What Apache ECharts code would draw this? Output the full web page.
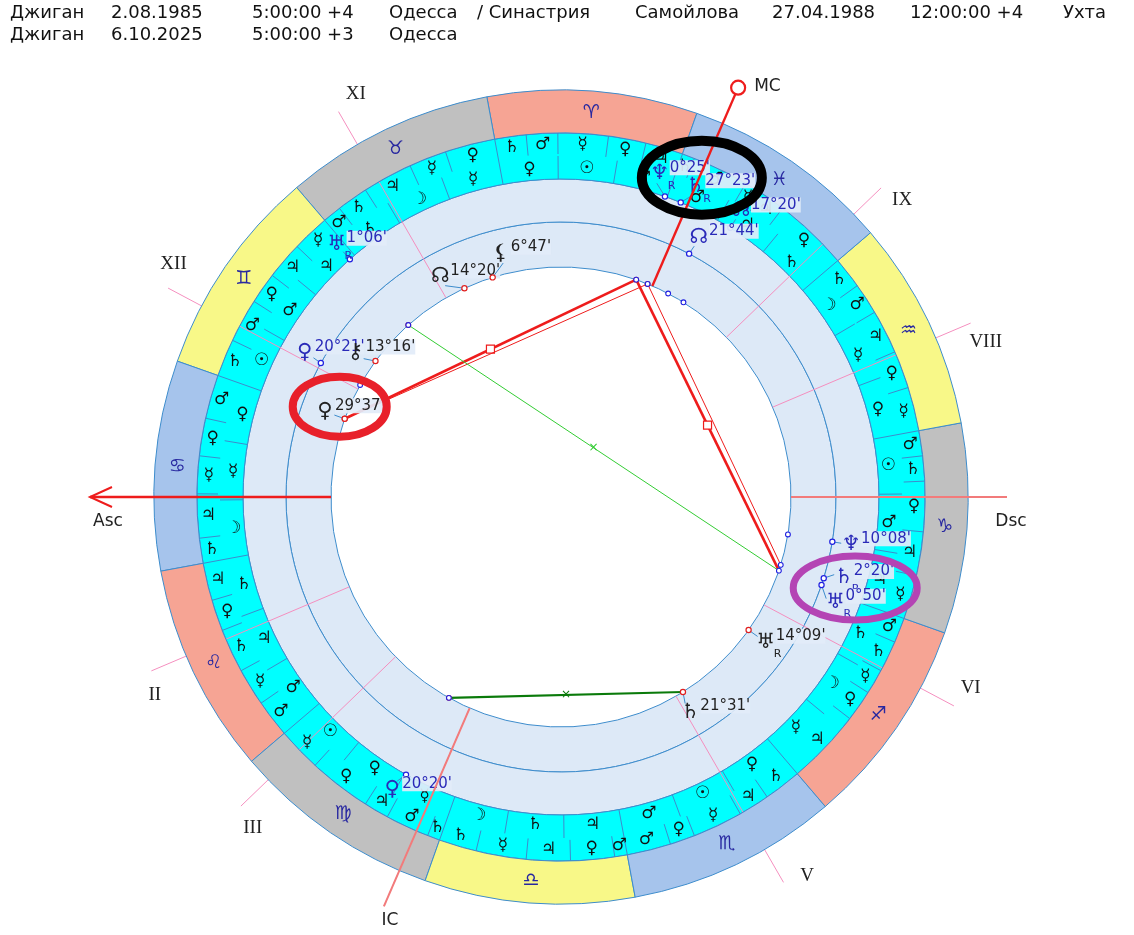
<!DOCTYPE html>
<html>
<head>
<meta charset="utf-8">
<script src="https://cdn.jsdelivr.net/npm/echarts@6/dist/echarts.min.js"></script>
<style>html,body{margin:0;background:#fff}#chart{width:1134px;height:935px}</style>
</head>
<body>
<div id="chart"></div>
<script>
// chart data
const ASC = 109.5;
const headerLine1 = ['Джиган', '2.08.1985', '5:00:00 +4', 'Одесса', '/ Синастрия', 'Самойлова', '27.04.1988', '12:00:00 +4', 'Ухта'];
const headerLine2 = ['Джиган', '6.10.2025', '5:00:00 +3', 'Одесса'];
const signGlyphs = ['\u2648','\u2649','\u264A','\u264B','\u264C','\u264D','\u264E','\u264F','\u2650','\u2651','\u2652','\u2653'];
const termRulers = [
  ['♃','♀','☿','♂','♄'], ['♀','☿','♃','♄','♂'], ['☿','♃','♀','♂','♄'], ['♂','♀','☿','♃','♄'],
  ['♃','♀','♄','☿','♂'], ['☿','♀','♃','♂','♄'], ['♄','☿','♃','♀','♂'], ['♂','♀','☿','♃','♄'],
  ['♃','♀','☿','♄','♂'], ['☿','♃','♀','♄','♂'], ['☿','♀','♃','♂','♄'], ['♀','♃','☿','♂','♄']
];
const termLengths = [
  [6,6,8,5,5], [8,6,8,5,3], [6,6,5,7,6], [7,6,6,7,4],
  [6,5,7,6,6], [7,10,4,7,2], [6,8,7,7,2], [7,4,8,5,6],
  [12,5,4,5,4], [7,7,8,4,4], [7,6,7,5,5], [12,4,3,9,2]
];
const faces = ['♂','☉','♀','☿','☽','♄','♃','♂','☉','♀','☿','☽','♄','♃','♂','☉','♀','☿',
  '☽','♄','♃','♂','☉','♀','☿','☽','♄','♃','♂','☉','♀','☿','☽','♄','♃','♂'];
const houseCusps = [109.5, 132.5, 153.5, 176.1, 229.5, 261.5, 289.5, 312.5, 333.5, 356.1, 49.5, 81.5];
const houseNames = ['Asc','II','III','IC','V','VI','Dsc','VIII','IX','MC','XI','XII'];

// transit 6.10.2025
const transitGlyphs = ['♆','♄','☊','♅','♀'];
const transitLon = [0.42, 357.38, 347.33, 61.1, 170.33];
const transitLabels = ["0°25'", "27°23'", "17°20'", "1°06'", "20°20'"];
const transitRetro = [true, true, false, true, false];
// Самойлова 27.04.1988
const partnerGlyphs = ['☊','♀','♆','♄','♅'];
const partnerLon = [351.73, 80.35, 280.13, 272.33, 270.83];
const partnerLabels = ["21°44'", "20°21'", "10°08'", "2°20'", "0°50'"];
const partnerRetro = [false, false, false, true, true];
// Джиган 2.08.1985
const natalGlyphs = ['☊','⚸','⚷','♀','♅','♄'];
const natalLon = [44.33, 36.78, 73.27, 89.62, 254.15, 231.52];
const natalLabels = ["14°20'", "6°47'", "13°16'", "29°37'", "14°09'", "21°31'"];
const natalRetro = [false, false, false, false, true, false];

// aspects
const aspFrom = [89.62, 89.62, 0.42, 357.38, 61.1, 170.33];
const aspTo = [0.42, 357.38, 270.83, 272.33, 270.83, 231.52];
const aspKind = ['sq', 'sq2', 'sq', 'sq2', 'qx', 'sx'];

// highlighted spots (longitudes)
const markLon = [355.7, 87.3, 272.3];

// layout
const header1X = [10, 111, 252, 389, 477, 635, 772, 910, 1063];
const header2X = [10, 111, 252, 389];
const transitShift = [2.1, -1.3, 0, 0, -0.8];
const partnerShift = [-0.2, -0.2, 0, 1.3, -2.3];
const natalShift = [3.9, -3.4, 1.2, 0, 0, -1];
const markStyle = [
  { r: 349, rx: 60, ry: 37, w: 10, c: '#000000' },
  { r: 239, rx: 47, ry: 30, w: 8, c: '#e8202a' },
  { r: 308, rx: 62, ry: 32, w: 7, c: '#b444b4' }
];

const signColors = ['#F6A494','#C0C0C0','#F8F888','#A6C4EC'];
const R_IN = 230, R_MID = 275, R_CY = 318, R_ZI = 364, R_ZO = 407;
const BLUE = '#2a2ab8', LINE = '#3d8ccc';
const font = 'DejaVu Sans';

const chart = echarts.init(document.getElementById('chart'));

function ringPie(r, color, z, data) {
  return {
    type: 'pie', center: [561, 497], radius: r, startAngle: 180 - ASC, clockwise: false,
    silent: true, z: z, label: { show: false }, labelLine: { show: false },
    emphasis: { disabled: true }, animation: false,
    itemStyle: { borderColor: LINE, borderWidth: 1, borderRadius: 0 },
    data: data || [{ value: 1, itemStyle: { color: color } }]
  };
}

// ticks in cyan ring
const ticks = [];
termLengths.forEach((ls, s) => {
  ticks.push([R_CY, R_ZI, s * 30]);
  let acc = 0;
  ls.forEach((l, k) => { if (k > 0) ticks.push([343, R_ZI, s * 30 + acc]); acc += l; });
});
faces.forEach((f, k) => { if (k % 3) ticks.push([R_CY, 341, k * 10]); });

// glyph texts in rings
const ringTexts = [];
signGlyphs.forEach((g, s) => ringTexts.push([385, s * 30 + 15, g, '#2828a0', 19]));
termLengths.forEach((ls, s) => {
  let acc = 0;
  ls.forEach((l, k) => { ringTexts.push([353, s * 30 + acc + l / 2, termRulers[s][k], '#111', 17]); acc += l; });
});
faces.forEach((f, k) => ringTexts.push([329, k * 10 + 5, f, '#111', 17]));

function planetSeries(glyphs, lon, labels, retro, shift, r0, rg, color, dotColor) {
  return {
    type: 'custom', coordinateSystem: 'polar', z: 8, silent: true, animation: false,
    data: lon.map(l => [r0, l]),
    renderItem: function (params, api) {
      const i = params.dataIndex;
      const L = api.value(1);
      const p0 = api.coord([r0, L]);
      const g = api.coord([rg, L + shift[i]]);
      const c = api.coord([rg - 10, L + shift[i]]);
      const ch = [
        { type: 'line', shape: { x1: p0[0], y1: p0[1], x2: c[0], y2: c[1] }, style: { stroke: LINE, lineWidth: 1 } },
        { type: 'circle', shape: { cx: p0[0], cy: p0[1], r: 2.6 }, style: { fill: '#fff', stroke: dotColor, lineWidth: 1.2 } },
        { type: 'text', x: g[0] + 10, y: g[1] - 6, style: { text: labels[i], fill: color, font: '15px ' + font, align: 'left', verticalAlign: 'middle', backgroundColor: 'rgba(226,236,249,0.92)' } },
        { type: 'text', x: g[0], y: g[1], style: { text: glyphs[i], fill: color, font: '21px ' + font, align: 'center', verticalAlign: 'middle' } }
      ];
      if (retro[i]) ch.push({ type: 'text', x: g[0] + 8, y: g[1] + 12, style: { text: 'R', fill: color, font: '11px ' + font, align: 'left', verticalAlign: 'middle' } });
      if (r0 > R_IN) {
        const pi = api.coord([R_IN, L]);
        ch.push({ type: 'circle', shape: { cx: pi[0], cy: pi[1], r: 2.4 }, style: { fill: '#fff', stroke: '#2020e0', lineWidth: 1.1 } });
      }
      return { type: 'group', children: ch };
    }
  };
}

const headerGraphics = [];
headerLine1.forEach((t, i) => headerGraphics.push({ type: 'text', left: header1X[i], top: 4, style: { text: t, fill: '#111', font: '18px ' + font } }));
headerLine2.forEach((t, i) => headerGraphics.push({ type: 'text', left: header2X[i], top: 26, style: { text: t, fill: '#111', font: '18px ' + font } }));

const option = {
  animation: false,
  graphic: headerGraphics,
  polar: { center: [561, 497], radius: 460 },
  radiusAxis: { min: 0, max: 460, show: false },
  angleAxis: { min: 0, max: 360, startAngle: 180 - ASC, clockwise: false, show: false },
  series: [
    ringPie([R_IN, R_MID], '#DDE9F7', 1),
    ringPie([R_MID, R_CY], '#DDE9F7', 1),
    ringPie([R_CY, R_ZI], '#00FFFF', 1),
    // house cusps
    {
      type: 'custom', coordinateSystem: 'polar', z: 2, silent: true,
      data: houseCusps.map(l => [R_IN, l]),
      renderItem: function (params, api) {
        const L = api.value(1);
        const a = api.coord([R_IN, L]), b = api.coord([445, L]);
        return { type: 'line', shape: { x1: a[0], y1: a[1], x2: b[0], y2: b[1] }, style: { stroke: '#F58FBF', lineWidth: 1 } };
      }
    },
    ringPie([R_ZI, R_ZO], null, 3, signGlyphs.map((g, s) => ({ value: 1, name: g, itemStyle: { color: signColors[s % 4] } }))),
    {
      type: 'custom', coordinateSystem: 'polar', z: 4, silent: true,
      data: ticks,
      renderItem: function (params, api) {
        const a = api.coord([api.value(0), api.value(2)]), b = api.coord([api.value(1), api.value(2)]);
        return { type: 'line', shape: { x1: a[0], y1: a[1], x2: b[0], y2: b[1] }, style: { stroke: LINE, lineWidth: 1 } };
      }
    },
    {
      type: 'custom', coordinateSystem: 'polar', z: 4, silent: true,
      data: ringTexts.map(t => [t[0], t[1]]),
      renderItem: function (params, api) {
        const t = ringTexts[params.dataIndex];
        const p = api.coord([t[0], t[1]]);
        return { type: 'text', x: p[0], y: p[1], style: { text: t[2], fill: t[3], font: t[4] + 'px ' + font, align: 'center', verticalAlign: 'middle' } };
      }
    },
    // house numerals
    {
      type: 'custom', coordinateSystem: 'polar', z: 4, silent: true,
      data: houseCusps.map(l => [452, l]),
      renderItem: function (params, api) {
        const name = houseNames[params.dataIndex];
        if (name === 'Asc' || name === 'Dsc' || name === 'MC' || name === 'IC') return null;
        const L = api.value(1);
        const scr = (L - ASC + 180 + 360) % 360;
        const p = api.coord([452, L + (scr < 180 ? -3 : 3)]);
        return { type: 'text', x: p[0], y: p[1], style: { text: name, fill: '#222', font: '19px Liberation Serif', align: 'center', verticalAlign: 'middle' } };
      }
    },
    // aspects
    {
      type: 'custom', coordinateSystem: 'polar', z: 6, silent: true,
      data: aspFrom.map((a, i) => [a, aspTo[i]]),
      renderItem: function (params, api) {
        const k = aspKind[params.dataIndex];
        const a = api.coord([R_IN, api.value(0)]), b = api.coord([R_IN, api.value(1)]);
        const col = k === 'sq' || k === 'sq2' ? '#ee1c1c' : (k === 'sx' ? '#0a7a0a' : '#33cc33');
        const w = k === 'sq' ? 2.6 : (k === 'sx' ? 2.2 : 1);
        const m = [(a[0] + b[0]) / 2, (a[1] + b[1]) / 2];
        const ch = [{ type: 'line', shape: { x1: a[0], y1: a[1], x2: b[0], y2: b[1] }, style: { stroke: col, lineWidth: w } }];
        if (k === 'sq') ch.push({ type: 'rect', shape: { x: m[0] - 4, y: m[1] - 4, width: 8, height: 8 }, style: { fill: '#fff', stroke: col, lineWidth: 1.2 } });
        if (k === 'qx' || k === 'sx') ch.push({ type: 'text', x: m[0], y: m[1], style: { text: '×', fill: col, font: '12px ' + font, align: 'center', verticalAlign: 'middle' } });
        ch.push({ type: 'circle', shape: { cx: a[0], cy: a[1], r: 2.4 }, style: { fill: '#fff', stroke: '#e02020', lineWidth: 1.1 } });
        return { type: 'group', children: ch };
      }
    },
    planetSeries(transitGlyphs, transitLon, transitLabels, transitRetro, transitShift, R_CY, 338, BLUE, '#2020e0'),
    planetSeries(partnerGlyphs, partnerLon, partnerLabels, partnerRetro, partnerShift, R_MID, 294, BLUE, '#2020e0'),
    planetSeries(natalGlyphs, natalLon, natalLabels, natalRetro, natalShift, R_IN, 251, '#222', '#e02020'),
    // angles Asc / Dsc / MC / IC
    {
      type: 'custom', coordinateSystem: 'polar', z: 9, silent: true,
      data: [[R_IN, houseCusps[0]], [R_IN, houseCusps[6]], [R_IN, houseCusps[9]], [R_IN, houseCusps[3]]],
      renderItem: function (params, api) {
        const i = params.dataIndex, L = api.value(1);
        const a = api.coord([R_IN, L]);
        const red = '#ee1c1c', pink = '#f27b7b';
        if (i === 0) {
          const b = api.coord([471, L]);
          return { type: 'group', children: [
            { type: 'line', shape: { x1: a[0], y1: a[1], x2: b[0], y2: b[1] }, style: { stroke: red, lineWidth: 2.4 } },
            { type: 'polyline', shape: { points: [[b[0] + 22, b[1] - 10], b, [b[0] + 22, b[1] + 10]] }, style: { stroke: red, lineWidth: 2, fill: null } },
            { type: 'text', x: b[0] + 18, y: b[1] + 25, style: { text: 'Asc', fill: '#222', font: '17px ' + font, align: 'center', verticalAlign: 'middle' } }
          ] };
        }
        if (i === 1) {
          const b = api.coord([446, L]);
          return { type: 'group', children: [
            { type: 'line', shape: { x1: a[0], y1: a[1], x2: b[0], y2: b[1] }, style: { stroke: pink, lineWidth: 2 } },
            { type: 'text', x: b[0] + 4, y: b[1] + 25, style: { text: 'Dsc', fill: '#222', font: '17px ' + font, align: 'center', verticalAlign: 'middle' } }
          ] };
        }
        if (i === 2) {
          const b = api.coord([439, L]), c = api.coord([446, L]);
          return { type: 'group', children: [
            { type: 'line', shape: { x1: a[0], y1: a[1], x2: b[0], y2: b[1] }, style: { stroke: red, lineWidth: 2.4 } },
            { type: 'circle', shape: { cx: c[0], cy: c[1], r: 7 }, style: { fill: '#fff', stroke: red, lineWidth: 2.2 } },
            { type: 'text', x: c[0] + 16, y: c[1] - 1, style: { text: 'MC', fill: '#222', font: '17px ' + font, align: 'left', verticalAlign: 'middle' } }
          ] };
        }
        const b = api.coord([446, L]);
        return { type: 'group', children: [
          { type: 'line', shape: { x1: a[0], y1: a[1], x2: b[0], y2: b[1] }, style: { stroke: pink, lineWidth: 2 } },
          { type: 'text', x: b[0] + 6, y: b[1] + 14, style: { text: 'IC', fill: '#222', font: '17px ' + font, align: 'center', verticalAlign: 'middle' } }
        ] };
      }
    },
    // highlight ellipses
    {
      type: 'custom', coordinateSystem: 'polar', z: 10, silent: true,
      data: markLon.map((l, i) => [markStyle[i].r, l]),
      renderItem: function (params, api) {
        const s = markStyle[params.dataIndex];
        const p = api.coord([api.value(0), api.value(1)]);
        return { type: 'ellipse', shape: { cx: p[0], cy: p[1], rx: s.rx, ry: s.ry }, style: { fill: null, stroke: s.c, lineWidth: s.w } };
      }
    }
  ]
};
chart.setOption(option);
window.onresize = function () { chart.resize(); };
</script>
</body>
</html>
